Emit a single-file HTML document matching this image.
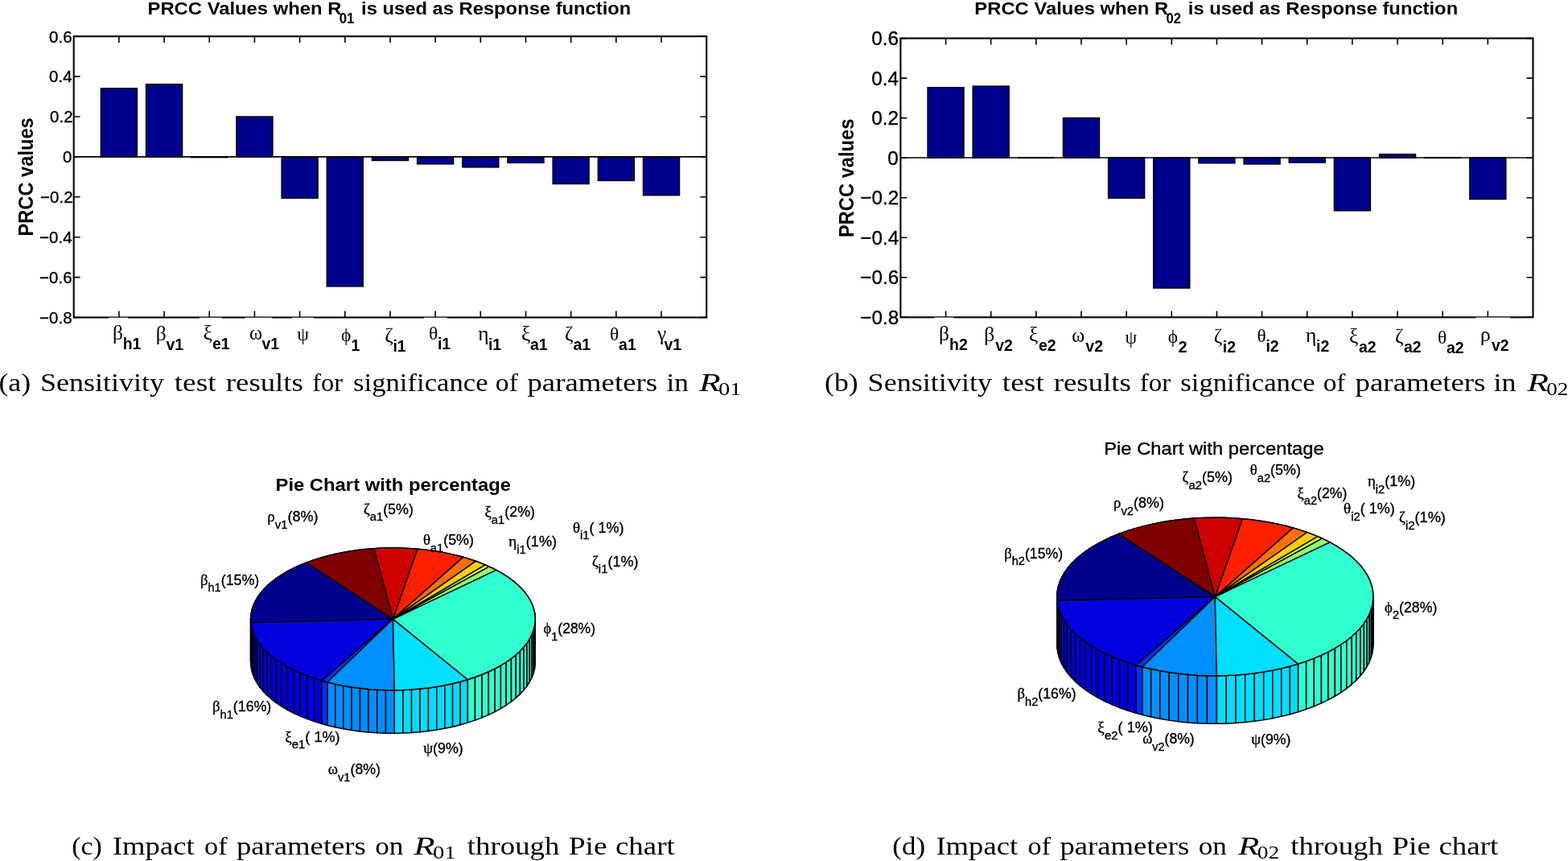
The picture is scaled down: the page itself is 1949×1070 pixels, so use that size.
<!DOCTYPE html><html><head><meta charset="utf-8"><title>PRCC sensitivity figure</title><style>html,body{margin:0;padding:0;background:#fff;overflow:hidden}svg{display:block;font-family:'Liberation Sans', Arial, Helvetica, sans-serif} .t{stroke:#000;stroke-width:0.35px}</style></head><body>
<svg width="1949" height="1070" viewBox="0 0 1949 1070">
<rect width="1949" height="1070" fill="#fff"/>
<rect x="125.41" y="109.8" width="44.94" height="85.1" fill="#00008F" stroke="#000" stroke-width="1.5"/>
<rect x="181.59" y="104.7" width="44.94" height="90.2" fill="#00008F" stroke="#000" stroke-width="1.5"/>
<rect x="237.77" y="194.9" width="44.94" height="0.7" fill="#00008F" stroke="#000" stroke-width="1.5"/>
<rect x="293.95" y="145" width="44.94" height="49.9" fill="#00008F" stroke="#000" stroke-width="1.5"/>
<rect x="350.13" y="194.9" width="44.94" height="51.3" fill="#00008F" stroke="#000" stroke-width="1.5"/>
<rect x="406.31" y="194.9" width="44.94" height="161" fill="#00008F" stroke="#000" stroke-width="1.5"/>
<rect x="462.49" y="194.9" width="44.94" height="4.5" fill="#00008F" stroke="#000" stroke-width="1.5"/>
<rect x="518.67" y="194.9" width="44.94" height="8.9" fill="#00008F" stroke="#000" stroke-width="1.5"/>
<rect x="574.85" y="194.9" width="44.94" height="12.9" fill="#00008F" stroke="#000" stroke-width="1.5"/>
<rect x="631.03" y="194.9" width="44.94" height="7.4" fill="#00008F" stroke="#000" stroke-width="1.5"/>
<rect x="687.21" y="194.9" width="44.94" height="33.6" fill="#00008F" stroke="#000" stroke-width="1.5"/>
<rect x="743.39" y="194.9" width="44.94" height="29.5" fill="#00008F" stroke="#000" stroke-width="1.5"/>
<rect x="799.57" y="194.9" width="44.94" height="47.8" fill="#00008F" stroke="#000" stroke-width="1.5"/>
<line x1="91.7" y1="194.9" x2="878.22" y2="194.9" stroke="#000" stroke-width="1.6"/>
<rect x="91.7" y="45.2" width="786.52" height="349.3" fill="none" stroke="#000" stroke-width="2.1"/>
<path d="M147.88 45.2v7.9M147.88 394.5v-7.9M204.06 45.2v7.9M204.06 394.5v-7.9M260.24 45.2v7.9M260.24 394.5v-7.9M316.42 45.2v7.9M316.42 394.5v-7.9M372.6 45.2v7.9M372.6 394.5v-7.9M428.78 45.2v7.9M428.78 394.5v-7.9M484.96 45.2v7.9M484.96 394.5v-7.9M541.14 45.2v7.9M541.14 394.5v-7.9M597.32 45.2v7.9M597.32 394.5v-7.9M653.5 45.2v7.9M653.5 394.5v-7.9M709.68 45.2v7.9M709.68 394.5v-7.9M765.86 45.2v7.9M765.86 394.5v-7.9M822.04 45.2v7.9M822.04 394.5v-7.9M91.7 45.2h7.9M878.22 45.2h-7.9M91.7 95.1h7.9M878.22 95.1h-7.9M91.7 145h7.9M878.22 145h-7.9M91.7 194.9h7.9M878.22 194.9h-7.9M91.7 244.8h7.9M878.22 244.8h-7.9M91.7 294.7h7.9M878.22 294.7h-7.9M91.7 344.6h7.9M878.22 344.6h-7.9M91.7 394.5h7.9M878.22 394.5h-7.9" stroke="#000" stroke-width="1.6" fill="none"/>
<rect x="1153.09" y="108.8" width="44.92" height="87.2" fill="#00008F" stroke="#000" stroke-width="1.5"/>
<rect x="1209.24" y="107.1" width="44.92" height="88.9" fill="#00008F" stroke="#000" stroke-width="1.5"/>
<rect x="1265.39" y="195.7" width="44.92" height="0.6" fill="#00008F" stroke="#000" stroke-width="1.5"/>
<rect x="1321.54" y="146.6" width="44.92" height="49.4" fill="#00008F" stroke="#000" stroke-width="1.5"/>
<rect x="1377.69" y="196" width="44.92" height="50.2" fill="#00008F" stroke="#000" stroke-width="1.5"/>
<rect x="1433.84" y="196" width="44.92" height="162" fill="#00008F" stroke="#000" stroke-width="1.5"/>
<rect x="1489.99" y="196" width="44.92" height="6.7" fill="#00008F" stroke="#000" stroke-width="1.5"/>
<rect x="1546.14" y="196" width="44.92" height="7.9" fill="#00008F" stroke="#000" stroke-width="1.5"/>
<rect x="1602.29" y="196" width="44.92" height="6" fill="#00008F" stroke="#000" stroke-width="1.5"/>
<rect x="1658.44" y="196" width="44.92" height="65.8" fill="#00008F" stroke="#000" stroke-width="1.5"/>
<rect x="1714.59" y="191.7" width="44.92" height="4.3" fill="#00008F" stroke="#000" stroke-width="1.5"/>
<rect x="1770.74" y="195.7" width="44.92" height="0.6" fill="#00008F" stroke="#000" stroke-width="1.5"/>
<rect x="1826.89" y="196" width="44.92" height="51.5" fill="#00008F" stroke="#000" stroke-width="1.5"/>
<line x1="1119.4" y1="196" x2="1905.5" y2="196" stroke="#000" stroke-width="1.6"/>
<rect x="1119.4" y="47.6" width="786.1" height="346.7" fill="none" stroke="#000" stroke-width="2.1"/>
<path d="M1175.55 47.6v7.9M1175.55 394.3v-7.9M1231.7 47.6v7.9M1231.7 394.3v-7.9M1287.85 47.6v7.9M1287.85 394.3v-7.9M1344 47.6v7.9M1344 394.3v-7.9M1400.15 47.6v7.9M1400.15 394.3v-7.9M1456.3 47.6v7.9M1456.3 394.3v-7.9M1512.45 47.6v7.9M1512.45 394.3v-7.9M1568.6 47.6v7.9M1568.6 394.3v-7.9M1624.75 47.6v7.9M1624.75 394.3v-7.9M1680.9 47.6v7.9M1680.9 394.3v-7.9M1737.05 47.6v7.9M1737.05 394.3v-7.9M1793.2 47.6v7.9M1793.2 394.3v-7.9M1849.35 47.6v7.9M1849.35 394.3v-7.9M1119.4 47.6h7.9M1905.5 47.6h-7.9M1119.4 97.13h7.9M1905.5 97.13h-7.9M1119.4 146.66h7.9M1905.5 146.66h-7.9M1119.4 196.19h7.9M1905.5 196.19h-7.9M1119.4 245.71h7.9M1905.5 245.71h-7.9M1119.4 295.24h7.9M1905.5 295.24h-7.9M1119.4 344.77h7.9M1905.5 344.77h-7.9M1119.4 394.3h7.9M1905.5 394.3h-7.9" stroke="#000" stroke-width="1.6" fill="none"/>
<rect x="135.2" y="394.75" width="23.6" height="1.6" fill="#fff"/><rect x="248" y="394.75" width="27.7" height="1.6" fill="#fff"/><rect x="304.5" y="394.75" width="33.8" height="1.6" fill="#fff"/><rect x="363" y="394.75" width="26.6" height="1.6" fill="#fff"/><rect x="527.2" y="394.75" width="28.8" height="1.6" fill="#fff"/><rect x="1161.2" y="394.55" width="24.6" height="1.6" fill="#fff"/><rect x="1834.3" y="394.55" width="43.1" height="1.6" fill="#fff"/>
<g transform="translate(183.54,17.7) scale(1.0640,1)"><text x="0" y="0" font-size="22.4" font-weight="bold">PRCC Values when R</text></g>
<g transform="translate(421.68,29.2) scale(0.9211,1)"><text x="0" y="0" font-size="18.2" font-weight="bold">01</text></g>
<g transform="translate(449.04,17.7) scale(1.0615,1)"><text x="0" y="0" font-size="22.4" font-weight="bold">is used as Response function</text></g>
<g transform="translate(1211.34,17.7) scale(1.0640,1)"><text x="0" y="0" font-size="22.4" font-weight="bold">PRCC Values when R</text></g>
<g transform="translate(1449.48,29.2) scale(0.9211,1)"><text x="0" y="0" font-size="18.2" font-weight="bold">02</text></g>
<g transform="translate(1476.84,17.7) scale(1.0615,1)"><text x="0" y="0" font-size="22.4" font-weight="bold">is used as Response function</text></g>
<g transform="translate(140.1,421.8) scale(1.0000,1)"><text x="0" y="0" font-size="25.5" font-family="'Liberation Serif', 'DejaVu Serif', serif">β</text></g>
<g transform="translate(193.7,422.8) scale(1.0000,1)"><text x="0" y="0" font-size="25.5" font-family="'Liberation Serif', 'DejaVu Serif', serif">β</text></g>
<g transform="translate(252.5,422) scale(1.0000,1)"><text x="0" y="0" font-size="25.5" font-family="'Liberation Serif', 'DejaVu Serif', serif">ξ</text></g>
<g transform="translate(310.1,422) scale(1.0000,1)"><text x="0" y="0" font-size="24.22" font-family="'Liberation Serif', 'DejaVu Serif', serif">ω</text></g>
<g transform="translate(369.2,423.1) scale(1.0000,1)"><text x="0" y="0" font-size="23.46" font-family="'Liberation Serif', 'DejaVu Serif', serif">ψ</text></g>
<g transform="translate(424.1,424.2) scale(1.0000,1)"><text x="0" y="0" font-size="23.46" font-family="'Liberation Serif', 'DejaVu Serif', serif">ϕ</text></g>
<g transform="translate(478.2,424.8) scale(1.0000,1)"><text x="0" y="0" font-size="25.5" font-family="'Liberation Serif', 'DejaVu Serif', serif">ζ</text></g>
<g transform="translate(532.9,421.6) scale(1.0000,1)"><text x="0" y="0" font-size="23.46" font-family="'Liberation Serif', 'DejaVu Serif', serif">θ</text></g>
<g transform="translate(594.3,423) scale(1.0000,1)"><text x="0" y="0" font-size="25.5" font-family="'Liberation Serif', 'DejaVu Serif', serif">η</text></g>
<g transform="translate(647.9,422.7) scale(1.0000,1)"><text x="0" y="0" font-size="25.5" font-family="'Liberation Serif', 'DejaVu Serif', serif">ξ</text></g>
<g transform="translate(702,422.5) scale(1.0000,1)"><text x="0" y="0" font-size="25.5" font-family="'Liberation Serif', 'DejaVu Serif', serif">ζ</text></g>
<g transform="translate(758.1,422.5) scale(1.0000,1)"><text x="0" y="0" font-size="23.46" font-family="'Liberation Serif', 'DejaVu Serif', serif">θ</text></g>
<g transform="translate(817,423) scale(1.0000,1)"><text x="0" y="0" font-size="25.5" font-family="'Liberation Serif', 'DejaVu Serif', serif">γ</text></g>
<g transform="translate(1167,422.5) scale(1.0000,1)"><text x="0" y="0" font-size="25.5" font-family="'Liberation Serif', 'DejaVu Serif', serif">β</text></g>
<g transform="translate(1223.2,424.2) scale(1.0000,1)"><text x="0" y="0" font-size="25.5" font-family="'Liberation Serif', 'DejaVu Serif', serif">β</text></g>
<g transform="translate(1278.9,424.2) scale(1.0000,1)"><text x="0" y="0" font-size="25.5" font-family="'Liberation Serif', 'DejaVu Serif', serif">ξ</text></g>
<g transform="translate(1332.3,425.3) scale(1.0000,1)"><text x="0" y="0" font-size="24.22" font-family="'Liberation Serif', 'DejaVu Serif', serif">ω</text></g>
<g transform="translate(1398.6,426.7) scale(1.0000,1)"><text x="0" y="0" font-size="23.46" font-family="'Liberation Serif', 'DejaVu Serif', serif">ψ</text></g>
<g transform="translate(1451.8,425.7) scale(1.0000,1)"><text x="0" y="0" font-size="23.46" font-family="'Liberation Serif', 'DejaVu Serif', serif">ϕ</text></g>
<g transform="translate(1508.8,425.7) scale(1.0000,1)"><text x="0" y="0" font-size="25.5" font-family="'Liberation Serif', 'DejaVu Serif', serif">ζ</text></g>
<g transform="translate(1562.4,425) scale(1.0000,1)"><text x="0" y="0" font-size="23.46" font-family="'Liberation Serif', 'DejaVu Serif', serif">θ</text></g>
<g transform="translate(1623.1,425) scale(1.0000,1)"><text x="0" y="0" font-size="25.5" font-family="'Liberation Serif', 'DejaVu Serif', serif">η</text></g>
<g transform="translate(1676.9,425.7) scale(1.0000,1)"><text x="0" y="0" font-size="25.5" font-family="'Liberation Serif', 'DejaVu Serif', serif">ξ</text></g>
<g transform="translate(1733.9,425.9) scale(1.0000,1)"><text x="0" y="0" font-size="25.5" font-family="'Liberation Serif', 'DejaVu Serif', serif">ζ</text></g>
<g transform="translate(1787,426.6) scale(1.0000,1)"><text x="0" y="0" font-size="23.46" font-family="'Liberation Serif', 'DejaVu Serif', serif">θ</text></g>
<g transform="translate(1840,423.7) scale(1.0000,1)"><text x="0" y="0" font-size="25.5" font-family="'Liberation Serif', 'DejaVu Serif', serif">ρ</text></g>
<path d="M380.79 699.15L372.51 702.53L372.51 756.13L380.79 752.75Z" fill="#00008F" stroke="#000" stroke-width="1.5" stroke-linejoin="round"/>
<path d="M372.51 702.53L364.66 706.15L364.66 759.75L372.51 756.13Z" fill="#00008F" stroke="#000" stroke-width="1.5" stroke-linejoin="round"/>
<path d="M364.66 706.15L357.26 710L357.26 763.6L364.66 759.75Z" fill="#00008F" stroke="#000" stroke-width="1.5" stroke-linejoin="round"/>
<path d="M357.26 710L350.33 714.07L350.33 767.67L357.26 763.6Z" fill="#00008F" stroke="#000" stroke-width="1.5" stroke-linejoin="round"/>
<path d="M350.33 714.07L343.92 718.34L343.92 771.94L350.33 767.67Z" fill="#00008F" stroke="#000" stroke-width="1.5" stroke-linejoin="round"/>
<path d="M343.92 718.34L338.02 722.8L338.02 776.4L343.92 771.94Z" fill="#00008F" stroke="#000" stroke-width="1.5" stroke-linejoin="round"/>
<path d="M338.02 722.8L332.68 727.43L332.68 781.03L338.02 776.4Z" fill="#00008F" stroke="#000" stroke-width="1.5" stroke-linejoin="round"/>
<path d="M332.68 727.43L327.91 732.21L327.91 785.81L332.68 781.03Z" fill="#00008F" stroke="#000" stroke-width="1.5" stroke-linejoin="round"/>
<path d="M327.91 732.21L323.72 737.13L323.72 790.73L327.91 785.81Z" fill="#00008F" stroke="#000" stroke-width="1.5" stroke-linejoin="round"/>
<path d="M323.72 737.13L320.14 742.16L320.14 795.76L323.72 790.73Z" fill="#00008F" stroke="#000" stroke-width="1.5" stroke-linejoin="round"/>
<path d="M320.14 742.16L317.17 747.29L317.17 800.89L320.14 795.76Z" fill="#00008F" stroke="#000" stroke-width="1.5" stroke-linejoin="round"/>
<path d="M317.17 747.29L314.82 752.5L314.82 806.1L317.17 800.89Z" fill="#00008F" stroke="#000" stroke-width="1.5" stroke-linejoin="round"/>
<path d="M314.82 752.5L313.11 757.78L313.11 811.38L314.82 806.1Z" fill="#00008F" stroke="#000" stroke-width="1.5" stroke-linejoin="round"/>
<path d="M313.11 757.78L312.04 763.09L312.04 816.69L313.11 811.38Z" fill="#00008F" stroke="#000" stroke-width="1.5" stroke-linejoin="round"/>
<path d="M312.04 763.09L311.61 768.43L311.61 822.03L312.04 816.69Z" fill="#00008F" stroke="#000" stroke-width="1.5" stroke-linejoin="round"/>
<path d="M311.61 768.43L311.6 769.3L311.6 822.9L311.61 822.03Z" fill="#00008F" stroke="#000" stroke-width="1.5" stroke-linejoin="round"/>
<path d="M665.3 769.3L665.25 767.18L665.25 820.78L665.3 822.9Z" fill="#30FFCF" stroke="#000" stroke-width="1.5" stroke-linejoin="round"/>
<path d="M665.25 767.18L664.66 761.77L664.66 815.37L665.25 820.78Z" fill="#30FFCF" stroke="#000" stroke-width="1.5" stroke-linejoin="round"/>
<path d="M664.66 761.77L663.4 756.39L663.4 809.99L664.66 815.37Z" fill="#30FFCF" stroke="#000" stroke-width="1.5" stroke-linejoin="round"/>
<path d="M663.4 756.39L661.49 751.06L661.49 804.66L663.4 809.99Z" fill="#30FFCF" stroke="#000" stroke-width="1.5" stroke-linejoin="round"/>
<path d="M661.49 751.06L658.94 745.79L658.94 799.39L661.49 804.66Z" fill="#30FFCF" stroke="#000" stroke-width="1.5" stroke-linejoin="round"/>
<path d="M658.94 745.79L655.74 740.62L655.74 794.22L658.94 799.39Z" fill="#30FFCF" stroke="#000" stroke-width="1.5" stroke-linejoin="round"/>
<path d="M655.74 740.62L651.91 735.55L651.91 789.15L655.74 794.22Z" fill="#30FFCF" stroke="#000" stroke-width="1.5" stroke-linejoin="round"/>
<path d="M651.91 735.55L647.47 730.61L647.47 784.21L651.91 789.15Z" fill="#30FFCF" stroke="#000" stroke-width="1.5" stroke-linejoin="round"/>
<path d="M647.47 730.61L642.44 725.81L642.44 779.41L647.47 784.21Z" fill="#30FFCF" stroke="#000" stroke-width="1.5" stroke-linejoin="round"/>
<path d="M642.44 725.81L636.82 721.18L636.82 774.78L642.44 779.41Z" fill="#30FFCF" stroke="#000" stroke-width="1.5" stroke-linejoin="round"/>
<path d="M636.82 721.18L630.65 716.73L630.65 770.33L636.82 774.78Z" fill="#30FFCF" stroke="#000" stroke-width="1.5" stroke-linejoin="round"/>
<path d="M630.65 716.73L623.95 712.47L623.95 766.07L630.65 770.33Z" fill="#30FFCF" stroke="#000" stroke-width="1.5" stroke-linejoin="round"/>
<path d="M623.95 712.47L616.73 708.43L616.73 762.03L623.95 766.07Z" fill="#30FFCF" stroke="#000" stroke-width="1.5" stroke-linejoin="round"/>
<path d="M616.73 708.43L612.41 706.23L612.41 759.83L616.73 762.03Z" fill="#8FFF70" stroke="#000" stroke-width="1.5" stroke-linejoin="round"/>
<path d="M612.41 706.23L607.93 704.11L607.93 757.71L612.41 759.83Z" fill="#8FFF70" stroke="#000" stroke-width="1.5" stroke-linejoin="round"/>
<path d="M607.93 704.11L603.07 701.96L603.07 755.56L607.93 757.71Z" fill="#DFFF20" stroke="#000" stroke-width="1.5" stroke-linejoin="round"/>
<path d="M603.07 701.96L597.21 699.57L597.21 753.17L603.07 755.56Z" fill="#FFCF00" stroke="#000" stroke-width="1.5" stroke-linejoin="round"/>
<path d="M597.21 699.57L591.15 697.31L591.15 750.91L597.21 753.17Z" fill="#FFCF00" stroke="#000" stroke-width="1.5" stroke-linejoin="round"/>
<path d="M591.15 697.31L583.47 694.72L583.47 748.32L591.15 750.91Z" fill="#FF7000" stroke="#000" stroke-width="1.5" stroke-linejoin="round"/>
<path d="M583.47 694.72L575.54 692.34L575.54 745.94L583.47 748.32Z" fill="#FF7000" stroke="#000" stroke-width="1.5" stroke-linejoin="round"/>
<path d="M575.54 692.34L566.62 689.98L566.62 743.58L575.54 745.94Z" fill="#FF2000" stroke="#000" stroke-width="1.5" stroke-linejoin="round"/>
<path d="M566.62 689.98L557.46 687.88L557.46 741.48L566.62 743.58Z" fill="#FF2000" stroke="#000" stroke-width="1.5" stroke-linejoin="round"/>
<path d="M557.46 687.88L548.07 686.05L548.07 739.65L557.46 741.48Z" fill="#FF2000" stroke="#000" stroke-width="1.5" stroke-linejoin="round"/>
<path d="M548.07 686.05L538.48 684.49L538.48 738.09L548.07 739.65Z" fill="#FF2000" stroke="#000" stroke-width="1.5" stroke-linejoin="round"/>
<path d="M538.48 684.49L528.73 683.2L528.73 736.8L538.48 738.09Z" fill="#FF2000" stroke="#000" stroke-width="1.5" stroke-linejoin="round"/>
<path d="M528.73 683.2L518.86 682.19L518.86 735.79L528.73 736.8Z" fill="#FF2000" stroke="#000" stroke-width="1.5" stroke-linejoin="round"/>
<path d="M518.86 682.19L508.1 681.42L508.1 735.02L518.86 735.79Z" fill="#CF0000" stroke="#000" stroke-width="1.5" stroke-linejoin="round"/>
<path d="M508.1 681.42L497.27 680.99L497.27 734.59L508.1 735.02Z" fill="#CF0000" stroke="#000" stroke-width="1.5" stroke-linejoin="round"/>
<path d="M497.27 680.99L486.41 680.88L486.41 734.48L497.27 734.59Z" fill="#CF0000" stroke="#000" stroke-width="1.5" stroke-linejoin="round"/>
<path d="M486.41 680.88L475.56 681.11L475.56 734.71L486.41 734.48Z" fill="#CF0000" stroke="#000" stroke-width="1.5" stroke-linejoin="round"/>
<path d="M475.56 681.11L464.75 681.67L464.75 735.27L475.56 734.71Z" fill="#CF0000" stroke="#000" stroke-width="1.5" stroke-linejoin="round"/>
<path d="M464.75 681.67L454.67 682.5L454.67 736.1L464.75 735.27Z" fill="#800000" stroke="#000" stroke-width="1.5" stroke-linejoin="round"/>
<path d="M454.67 682.5L444.7 683.62L444.7 737.22L454.67 736.1Z" fill="#800000" stroke="#000" stroke-width="1.5" stroke-linejoin="round"/>
<path d="M444.7 683.62L434.88 685.03L434.88 738.63L444.7 737.22Z" fill="#800000" stroke="#000" stroke-width="1.5" stroke-linejoin="round"/>
<path d="M434.88 685.03L425.23 686.72L425.23 740.32L434.88 738.63Z" fill="#800000" stroke="#000" stroke-width="1.5" stroke-linejoin="round"/>
<path d="M425.23 686.72L415.8 688.68L415.8 742.28L425.23 740.32Z" fill="#800000" stroke="#000" stroke-width="1.5" stroke-linejoin="round"/>
<path d="M415.8 688.68L406.61 690.91L406.61 744.51L415.8 742.28Z" fill="#800000" stroke="#000" stroke-width="1.5" stroke-linejoin="round"/>
<path d="M406.61 690.91L397.69 693.41L397.69 747.01L406.61 744.51Z" fill="#800000" stroke="#000" stroke-width="1.5" stroke-linejoin="round"/>
<path d="M397.69 693.41L389.07 696.16L389.07 749.76L397.69 747.01Z" fill="#800000" stroke="#000" stroke-width="1.5" stroke-linejoin="round"/>
<path d="M389.07 696.16L380.79 699.15L380.79 752.75L389.07 749.76Z" fill="#800000" stroke="#000" stroke-width="1.5" stroke-linejoin="round"/>
<path d="M311.6 769.3L311.83 773.77L311.83 827.37L311.6 822.9Z" fill="#00008F" stroke="#000" stroke-width="1.5" stroke-linejoin="round"/>
<path d="M311.83 773.77L312.73 779.26L312.73 832.86L311.83 827.37Z" fill="#0000DF" stroke="#000" stroke-width="1.5" stroke-linejoin="round"/>
<path d="M312.73 779.26L314.31 784.71L314.31 838.31L312.73 832.86Z" fill="#0000DF" stroke="#000" stroke-width="1.5" stroke-linejoin="round"/>
<path d="M314.31 784.71L316.56 790.1L316.56 843.7L314.31 838.31Z" fill="#0000DF" stroke="#000" stroke-width="1.5" stroke-linejoin="round"/>
<path d="M316.56 790.1L319.49 795.41L319.49 849.01L316.56 843.7Z" fill="#0000DF" stroke="#000" stroke-width="1.5" stroke-linejoin="round"/>
<path d="M319.49 795.41L323.06 800.62L323.06 854.22L319.49 849.01Z" fill="#0000DF" stroke="#000" stroke-width="1.5" stroke-linejoin="round"/>
<path d="M323.06 800.62L327.28 805.71L327.28 859.31L323.06 854.22Z" fill="#0000DF" stroke="#000" stroke-width="1.5" stroke-linejoin="round"/>
<path d="M327.28 805.71L332.13 810.65L332.13 864.25L327.28 859.31Z" fill="#0000DF" stroke="#000" stroke-width="1.5" stroke-linejoin="round"/>
<path d="M332.13 810.65L337.58 815.44L337.58 869.04L332.13 864.25Z" fill="#0000DF" stroke="#000" stroke-width="1.5" stroke-linejoin="round"/>
<path d="M337.58 815.44L343.62 820.04L343.62 873.64L337.58 869.04Z" fill="#0000DF" stroke="#000" stroke-width="1.5" stroke-linejoin="round"/>
<path d="M343.62 820.04L350.21 824.45L350.21 878.05L343.62 873.64Z" fill="#0000DF" stroke="#000" stroke-width="1.5" stroke-linejoin="round"/>
<path d="M350.21 824.45L357.35 828.65L357.35 882.25L350.21 878.05Z" fill="#0000DF" stroke="#000" stroke-width="1.5" stroke-linejoin="round"/>
<path d="M357.35 828.65L364.99 832.61L364.99 886.21L357.35 882.25Z" fill="#0000DF" stroke="#000" stroke-width="1.5" stroke-linejoin="round"/>
<path d="M364.99 832.61L373.11 836.33L373.11 889.93L364.99 886.21Z" fill="#0000DF" stroke="#000" stroke-width="1.5" stroke-linejoin="round"/>
<path d="M373.11 836.33L381.68 839.79L381.68 893.39L373.11 889.93Z" fill="#0000DF" stroke="#000" stroke-width="1.5" stroke-linejoin="round"/>
<path d="M381.68 839.79L390.66 842.98L390.66 896.58L381.68 893.39Z" fill="#0000DF" stroke="#000" stroke-width="1.5" stroke-linejoin="round"/>
<path d="M390.66 842.98L400.02 845.88L400.02 899.48L390.66 896.58Z" fill="#0000DF" stroke="#000" stroke-width="1.5" stroke-linejoin="round"/>
<path d="M400.02 845.88L407.06 847.81L407.06 901.41L400.02 899.48Z" fill="#0030FF" stroke="#000" stroke-width="1.5" stroke-linejoin="round"/>
<path d="M407.06 847.81L416.8 850.14L416.8 903.74L407.06 901.41Z" fill="#008FFF" stroke="#000" stroke-width="1.5" stroke-linejoin="round"/>
<path d="M416.8 850.14L426.81 852.18L426.81 905.78L416.8 903.74Z" fill="#008FFF" stroke="#000" stroke-width="1.5" stroke-linejoin="round"/>
<path d="M426.81 852.18L437.04 853.91L437.04 907.51L426.81 905.78Z" fill="#008FFF" stroke="#000" stroke-width="1.5" stroke-linejoin="round"/>
<path d="M437.04 853.91L447.47 855.32L447.47 908.92L437.04 907.51Z" fill="#008FFF" stroke="#000" stroke-width="1.5" stroke-linejoin="round"/>
<path d="M447.47 855.32L458.04 856.41L458.04 910.01L447.47 908.92Z" fill="#008FFF" stroke="#000" stroke-width="1.5" stroke-linejoin="round"/>
<path d="M458.04 856.41L468.74 857.17L468.74 910.77L458.04 910.01Z" fill="#008FFF" stroke="#000" stroke-width="1.5" stroke-linejoin="round"/>
<path d="M468.74 857.17L479.5 857.61L479.5 911.21L468.74 910.77Z" fill="#008FFF" stroke="#000" stroke-width="1.5" stroke-linejoin="round"/>
<path d="M479.5 857.61L490.3 857.72L490.3 911.32L479.5 911.21Z" fill="#008FFF" stroke="#000" stroke-width="1.5" stroke-linejoin="round"/>
<path d="M490.3 857.72L500.96 857.5L500.96 911.1L490.3 911.32Z" fill="#00DFFF" stroke="#000" stroke-width="1.5" stroke-linejoin="round"/>
<path d="M500.96 857.5L511.57 856.97L511.57 910.57L500.96 911.1Z" fill="#00DFFF" stroke="#000" stroke-width="1.5" stroke-linejoin="round"/>
<path d="M511.57 856.97L522.09 856.11L522.09 909.71L511.57 910.57Z" fill="#00DFFF" stroke="#000" stroke-width="1.5" stroke-linejoin="round"/>
<path d="M522.09 856.11L532.5 854.94L532.5 908.54L522.09 909.71Z" fill="#00DFFF" stroke="#000" stroke-width="1.5" stroke-linejoin="round"/>
<path d="M532.5 854.94L542.74 853.46L542.74 907.06L532.5 908.54Z" fill="#00DFFF" stroke="#000" stroke-width="1.5" stroke-linejoin="round"/>
<path d="M542.74 853.46L552.79 851.67L552.79 905.27L542.74 907.06Z" fill="#00DFFF" stroke="#000" stroke-width="1.5" stroke-linejoin="round"/>
<path d="M552.79 851.67L562.6 849.58L562.6 903.18L552.79 905.27Z" fill="#00DFFF" stroke="#000" stroke-width="1.5" stroke-linejoin="round"/>
<path d="M562.6 849.58L572.14 847.2L572.14 900.8L562.6 903.18Z" fill="#00DFFF" stroke="#000" stroke-width="1.5" stroke-linejoin="round"/>
<path d="M572.14 847.2L581.38 844.53L581.38 898.13L572.14 900.8Z" fill="#00DFFF" stroke="#000" stroke-width="1.5" stroke-linejoin="round"/>
<path d="M581.38 844.53L590.42 841.55L590.42 895.15L581.38 898.13Z" fill="#30FFCF" stroke="#000" stroke-width="1.5" stroke-linejoin="round"/>
<path d="M590.42 841.55L599.07 838.29L599.07 891.89L590.42 895.15Z" fill="#30FFCF" stroke="#000" stroke-width="1.5" stroke-linejoin="round"/>
<path d="M599.07 838.29L607.31 834.77L607.31 888.37L599.07 891.89Z" fill="#30FFCF" stroke="#000" stroke-width="1.5" stroke-linejoin="round"/>
<path d="M607.31 834.77L615.11 831.01L615.11 884.61L607.31 888.37Z" fill="#30FFCF" stroke="#000" stroke-width="1.5" stroke-linejoin="round"/>
<path d="M615.11 831.01L622.43 827.02L622.43 880.62L615.11 884.61Z" fill="#30FFCF" stroke="#000" stroke-width="1.5" stroke-linejoin="round"/>
<path d="M622.43 827.02L629.25 822.81L629.25 876.41L622.43 880.62Z" fill="#30FFCF" stroke="#000" stroke-width="1.5" stroke-linejoin="round"/>
<path d="M629.25 822.81L635.53 818.4L635.53 872L629.25 876.41Z" fill="#30FFCF" stroke="#000" stroke-width="1.5" stroke-linejoin="round"/>
<path d="M635.53 818.4L641.27 813.8L641.27 867.4L635.53 872Z" fill="#30FFCF" stroke="#000" stroke-width="1.5" stroke-linejoin="round"/>
<path d="M641.27 813.8L646.43 809.04L646.43 862.64L641.27 867.4Z" fill="#30FFCF" stroke="#000" stroke-width="1.5" stroke-linejoin="round"/>
<path d="M646.43 809.04L651 804.13L651 857.73L646.43 862.64Z" fill="#30FFCF" stroke="#000" stroke-width="1.5" stroke-linejoin="round"/>
<path d="M651 804.13L654.96 799.09L654.96 852.69L651 857.73Z" fill="#30FFCF" stroke="#000" stroke-width="1.5" stroke-linejoin="round"/>
<path d="M654.96 799.09L658.3 793.93L658.3 847.53L654.96 852.69Z" fill="#30FFCF" stroke="#000" stroke-width="1.5" stroke-linejoin="round"/>
<path d="M658.3 793.93L661 788.69L661 842.29L658.3 847.53Z" fill="#30FFCF" stroke="#000" stroke-width="1.5" stroke-linejoin="round"/>
<path d="M661 788.69L663.05 783.37L663.05 836.97L661 842.29Z" fill="#30FFCF" stroke="#000" stroke-width="1.5" stroke-linejoin="round"/>
<path d="M663.05 783.37L664.44 778L664.44 831.6L663.05 836.97Z" fill="#30FFCF" stroke="#000" stroke-width="1.5" stroke-linejoin="round"/>
<path d="M664.44 778L665.18 772.59L665.18 826.19L664.44 831.6Z" fill="#30FFCF" stroke="#000" stroke-width="1.5" stroke-linejoin="round"/>
<path d="M665.18 772.59L665.3 769.3L665.3 822.9L665.18 826.19Z" fill="#30FFCF" stroke="#000" stroke-width="1.5" stroke-linejoin="round"/>
<path d="M488.45 769.3L380.79 699.15L372.51 702.53L364.66 706.15L357.26 710L350.33 714.07L343.92 718.34L338.02 722.8L332.68 727.43L327.91 732.21L323.72 737.13L320.14 742.16L317.17 747.29L314.82 752.5L313.11 757.78L312.04 763.09L311.61 768.43L311.83 773.77Z" fill="#00008F" stroke="#000" stroke-width="1.5" stroke-linejoin="round"/>
<path d="M488.45 769.3L311.83 773.77L312.73 779.26L314.31 784.71L316.56 790.1L319.49 795.41L323.06 800.62L327.28 805.71L332.13 810.65L337.58 815.44L343.62 820.04L350.21 824.45L357.35 828.65L364.99 832.61L373.11 836.33L381.68 839.79L390.66 842.98L400.02 845.88Z" fill="#0000DF" stroke="#000" stroke-width="1.5" stroke-linejoin="round"/>
<path d="M488.45 769.3L400.02 845.88L407.06 847.81Z" fill="#0030FF" stroke="#000" stroke-width="1.5" stroke-linejoin="round"/>
<path d="M488.45 769.3L407.06 847.81L416.8 850.14L426.81 852.18L437.04 853.91L447.47 855.32L458.04 856.41L468.74 857.17L479.5 857.61L490.3 857.72Z" fill="#008FFF" stroke="#000" stroke-width="1.5" stroke-linejoin="round"/>
<path d="M488.45 769.3L490.3 857.72L500.96 857.5L511.57 856.97L522.09 856.11L532.5 854.94L542.74 853.46L552.79 851.67L562.6 849.58L572.14 847.2L581.38 844.53Z" fill="#00DFFF" stroke="#000" stroke-width="1.5" stroke-linejoin="round"/>
<path d="M488.45 769.3L581.38 844.53L590.42 841.55L599.07 838.29L607.31 834.77L615.11 831.01L622.43 827.02L629.25 822.81L635.53 818.4L641.27 813.8L646.43 809.04L651 804.13L654.96 799.09L658.3 793.93L661 788.69L663.05 783.37L664.44 778L665.18 772.59L665.25 767.18L664.66 761.77L663.4 756.39L661.49 751.06L658.94 745.79L655.74 740.62L651.91 735.55L647.47 730.61L642.44 725.81L636.82 721.18L630.65 716.73L623.95 712.47L616.73 708.43Z" fill="#30FFCF" stroke="#000" stroke-width="1.5" stroke-linejoin="round"/>
<path d="M488.45 769.3L616.73 708.43L612.41 706.23L607.93 704.11Z" fill="#8FFF70" stroke="#000" stroke-width="1.5" stroke-linejoin="round"/>
<path d="M488.45 769.3L607.93 704.11L603.07 701.96Z" fill="#DFFF20" stroke="#000" stroke-width="1.5" stroke-linejoin="round"/>
<path d="M488.45 769.3L603.07 701.96L597.21 699.57L591.15 697.31Z" fill="#FFCF00" stroke="#000" stroke-width="1.5" stroke-linejoin="round"/>
<path d="M488.45 769.3L591.15 697.31L583.47 694.72L575.54 692.34Z" fill="#FF7000" stroke="#000" stroke-width="1.5" stroke-linejoin="round"/>
<path d="M488.45 769.3L575.54 692.34L566.62 689.98L557.46 687.88L548.07 686.05L538.48 684.49L528.73 683.2L518.86 682.19Z" fill="#FF2000" stroke="#000" stroke-width="1.5" stroke-linejoin="round"/>
<path d="M488.45 769.3L518.86 682.19L508.1 681.42L497.27 680.99L486.41 680.88L475.56 681.11L464.75 681.67Z" fill="#CF0000" stroke="#000" stroke-width="1.5" stroke-linejoin="round"/>
<path d="M488.45 769.3L464.75 681.67L454.67 682.5L444.7 683.62L434.88 685.03L425.23 686.72L415.8 688.68L406.61 690.91L397.69 693.41L389.07 696.16L380.79 699.15Z" fill="#800000" stroke="#000" stroke-width="1.5" stroke-linejoin="round"/>
<path d="M1390.7 663.53L1381.5 667.29L1381.5 726.89L1390.7 723.13Z" fill="#00008F" stroke="#000" stroke-width="1.5" stroke-linejoin="round"/>
<path d="M1381.5 667.29L1372.77 671.32L1372.77 730.92L1381.5 726.89Z" fill="#00008F" stroke="#000" stroke-width="1.5" stroke-linejoin="round"/>
<path d="M1372.77 671.32L1364.54 675.6L1364.54 735.2L1372.77 730.92Z" fill="#00008F" stroke="#000" stroke-width="1.5" stroke-linejoin="round"/>
<path d="M1364.54 675.6L1356.85 680.12L1356.85 739.72L1364.54 735.2Z" fill="#00008F" stroke="#000" stroke-width="1.5" stroke-linejoin="round"/>
<path d="M1356.85 680.12L1349.72 684.87L1349.72 744.47L1356.85 739.72Z" fill="#00008F" stroke="#000" stroke-width="1.5" stroke-linejoin="round"/>
<path d="M1349.72 684.87L1343.17 689.82L1343.17 749.42L1349.72 744.47Z" fill="#00008F" stroke="#000" stroke-width="1.5" stroke-linejoin="round"/>
<path d="M1343.17 689.82L1337.23 694.97L1337.23 754.57L1343.17 749.42Z" fill="#00008F" stroke="#000" stroke-width="1.5" stroke-linejoin="round"/>
<path d="M1337.23 694.97L1331.93 700.28L1331.93 759.88L1337.23 754.57Z" fill="#00008F" stroke="#000" stroke-width="1.5" stroke-linejoin="round"/>
<path d="M1331.93 700.28L1327.27 705.74L1327.27 765.34L1331.93 759.88Z" fill="#00008F" stroke="#000" stroke-width="1.5" stroke-linejoin="round"/>
<path d="M1327.27 705.74L1323.29 711.34L1323.29 770.94L1327.27 765.34Z" fill="#00008F" stroke="#000" stroke-width="1.5" stroke-linejoin="round"/>
<path d="M1323.29 711.34L1319.99 717.04L1319.99 776.64L1323.29 770.94Z" fill="#00008F" stroke="#000" stroke-width="1.5" stroke-linejoin="round"/>
<path d="M1319.99 717.04L1317.38 722.83L1317.38 782.43L1319.99 776.64Z" fill="#00008F" stroke="#000" stroke-width="1.5" stroke-linejoin="round"/>
<path d="M1317.38 722.83L1315.48 728.69L1315.48 788.29L1317.38 782.43Z" fill="#00008F" stroke="#000" stroke-width="1.5" stroke-linejoin="round"/>
<path d="M1315.48 728.69L1314.28 734.6L1314.28 794.2L1315.48 788.29Z" fill="#00008F" stroke="#000" stroke-width="1.5" stroke-linejoin="round"/>
<path d="M1314.28 734.6L1313.81 740.54L1313.81 800.14L1314.28 794.2Z" fill="#00008F" stroke="#000" stroke-width="1.5" stroke-linejoin="round"/>
<path d="M1313.81 740.54L1313.8 741.5L1313.8 801.1L1313.81 800.14Z" fill="#00008F" stroke="#000" stroke-width="1.5" stroke-linejoin="round"/>
<path d="M1706.9 741.5L1706.84 739.14L1706.84 798.74L1706.9 801.1Z" fill="#30FFCF" stroke="#000" stroke-width="1.5" stroke-linejoin="round"/>
<path d="M1706.84 739.14L1706.19 733.13L1706.19 792.73L1706.84 798.74Z" fill="#30FFCF" stroke="#000" stroke-width="1.5" stroke-linejoin="round"/>
<path d="M1706.19 733.13L1704.79 727.15L1704.79 786.75L1706.19 792.73Z" fill="#30FFCF" stroke="#000" stroke-width="1.5" stroke-linejoin="round"/>
<path d="M1704.79 727.15L1702.67 721.22L1702.67 780.82L1704.79 786.75Z" fill="#30FFCF" stroke="#000" stroke-width="1.5" stroke-linejoin="round"/>
<path d="M1702.67 721.22L1699.83 715.37L1699.83 774.97L1702.67 780.82Z" fill="#30FFCF" stroke="#000" stroke-width="1.5" stroke-linejoin="round"/>
<path d="M1699.83 715.37L1696.27 709.62L1696.27 769.22L1699.83 774.97Z" fill="#30FFCF" stroke="#000" stroke-width="1.5" stroke-linejoin="round"/>
<path d="M1696.27 709.62L1692.02 703.99L1692.02 763.59L1696.27 769.22Z" fill="#30FFCF" stroke="#000" stroke-width="1.5" stroke-linejoin="round"/>
<path d="M1692.02 703.99L1687.09 698.5L1687.09 758.1L1692.02 763.59Z" fill="#30FFCF" stroke="#000" stroke-width="1.5" stroke-linejoin="round"/>
<path d="M1687.09 698.5L1681.49 693.17L1681.49 752.77L1687.09 758.1Z" fill="#30FFCF" stroke="#000" stroke-width="1.5" stroke-linejoin="round"/>
<path d="M1681.49 693.17L1675.25 688.02L1675.25 747.62L1681.49 752.77Z" fill="#30FFCF" stroke="#000" stroke-width="1.5" stroke-linejoin="round"/>
<path d="M1675.25 688.02L1668.39 683.07L1668.39 742.67L1675.25 747.62Z" fill="#30FFCF" stroke="#000" stroke-width="1.5" stroke-linejoin="round"/>
<path d="M1668.39 683.07L1660.94 678.34L1660.94 737.94L1668.39 742.67Z" fill="#30FFCF" stroke="#000" stroke-width="1.5" stroke-linejoin="round"/>
<path d="M1660.94 678.34L1652.92 673.85L1652.92 733.45L1660.94 737.94Z" fill="#30FFCF" stroke="#000" stroke-width="1.5" stroke-linejoin="round"/>
<path d="M1652.92 673.85L1648.11 671.41L1648.11 731.01L1652.92 733.45Z" fill="#8FFF70" stroke="#000" stroke-width="1.5" stroke-linejoin="round"/>
<path d="M1648.11 671.41L1643.14 669.04L1643.14 728.64L1648.11 731.01Z" fill="#8FFF70" stroke="#000" stroke-width="1.5" stroke-linejoin="round"/>
<path d="M1643.14 669.04L1637.74 666.66L1637.74 726.26L1643.14 728.64Z" fill="#DFFF20" stroke="#000" stroke-width="1.5" stroke-linejoin="round"/>
<path d="M1637.74 666.66L1631.22 664.01L1631.22 723.61L1637.74 726.26Z" fill="#FFCF00" stroke="#000" stroke-width="1.5" stroke-linejoin="round"/>
<path d="M1631.22 664.01L1624.49 661.49L1624.49 721.09L1631.22 723.61Z" fill="#FFCF00" stroke="#000" stroke-width="1.5" stroke-linejoin="round"/>
<path d="M1624.49 661.49L1615.96 658.62L1615.96 718.22L1624.49 721.09Z" fill="#FF7000" stroke="#000" stroke-width="1.5" stroke-linejoin="round"/>
<path d="M1615.96 658.62L1607.14 655.97L1607.14 715.57L1615.96 718.22Z" fill="#FF7000" stroke="#000" stroke-width="1.5" stroke-linejoin="round"/>
<path d="M1607.14 655.97L1597.23 653.35L1597.23 712.95L1607.14 715.57Z" fill="#FF2000" stroke="#000" stroke-width="1.5" stroke-linejoin="round"/>
<path d="M1597.23 653.35L1587.04 651.02L1587.04 710.62L1597.23 712.95Z" fill="#FF2000" stroke="#000" stroke-width="1.5" stroke-linejoin="round"/>
<path d="M1587.04 651.02L1576.61 648.98L1576.61 708.58L1587.04 710.62Z" fill="#FF2000" stroke="#000" stroke-width="1.5" stroke-linejoin="round"/>
<path d="M1576.61 648.98L1565.95 647.24L1565.95 706.84L1576.61 708.58Z" fill="#FF2000" stroke="#000" stroke-width="1.5" stroke-linejoin="round"/>
<path d="M1565.95 647.24L1555.12 645.81L1555.12 705.41L1565.95 706.84Z" fill="#FF2000" stroke="#000" stroke-width="1.5" stroke-linejoin="round"/>
<path d="M1555.12 645.81L1544.14 644.69L1544.14 704.29L1555.12 705.41Z" fill="#FF2000" stroke="#000" stroke-width="1.5" stroke-linejoin="round"/>
<path d="M1544.14 644.69L1532.19 643.83L1532.19 703.43L1544.14 704.29Z" fill="#CF0000" stroke="#000" stroke-width="1.5" stroke-linejoin="round"/>
<path d="M1532.19 643.83L1520.16 643.35L1520.16 702.95L1532.19 703.43Z" fill="#CF0000" stroke="#000" stroke-width="1.5" stroke-linejoin="round"/>
<path d="M1520.16 643.35L1508.09 643.23L1508.09 702.83L1520.16 702.95Z" fill="#CF0000" stroke="#000" stroke-width="1.5" stroke-linejoin="round"/>
<path d="M1508.09 643.23L1496.02 643.49L1496.02 703.09L1508.09 702.83Z" fill="#CF0000" stroke="#000" stroke-width="1.5" stroke-linejoin="round"/>
<path d="M1496.02 643.49L1484.02 644.11L1484.02 703.71L1496.02 703.09Z" fill="#CF0000" stroke="#000" stroke-width="1.5" stroke-linejoin="round"/>
<path d="M1484.02 644.11L1472.81 645.03L1472.81 704.63L1484.02 703.71Z" fill="#800000" stroke="#000" stroke-width="1.5" stroke-linejoin="round"/>
<path d="M1472.81 645.03L1461.73 646.28L1461.73 705.88L1472.81 704.63Z" fill="#800000" stroke="#000" stroke-width="1.5" stroke-linejoin="round"/>
<path d="M1461.73 646.28L1450.81 647.84L1450.81 707.44L1461.73 705.88Z" fill="#800000" stroke="#000" stroke-width="1.5" stroke-linejoin="round"/>
<path d="M1450.81 647.84L1440.09 649.72L1440.09 709.32L1450.81 707.44Z" fill="#800000" stroke="#000" stroke-width="1.5" stroke-linejoin="round"/>
<path d="M1440.09 649.72L1429.61 651.9L1429.61 711.5L1440.09 709.32Z" fill="#800000" stroke="#000" stroke-width="1.5" stroke-linejoin="round"/>
<path d="M1429.61 651.9L1419.39 654.38L1419.39 713.98L1429.61 711.5Z" fill="#800000" stroke="#000" stroke-width="1.5" stroke-linejoin="round"/>
<path d="M1419.39 654.38L1409.48 657.15L1409.48 716.75L1419.39 713.98Z" fill="#800000" stroke="#000" stroke-width="1.5" stroke-linejoin="round"/>
<path d="M1409.48 657.15L1399.9 660.21L1399.9 719.81L1409.48 716.75Z" fill="#800000" stroke="#000" stroke-width="1.5" stroke-linejoin="round"/>
<path d="M1399.9 660.21L1390.7 663.53L1390.7 723.13L1399.9 719.81Z" fill="#800000" stroke="#000" stroke-width="1.5" stroke-linejoin="round"/>
<path d="M1313.8 741.5L1314.05 746.47L1314.05 806.07L1313.8 801.1Z" fill="#00008F" stroke="#000" stroke-width="1.5" stroke-linejoin="round"/>
<path d="M1314.05 746.47L1315.05 752.57L1315.05 812.17L1314.05 806.07Z" fill="#0000DF" stroke="#000" stroke-width="1.5" stroke-linejoin="round"/>
<path d="M1315.05 752.57L1316.81 758.63L1316.81 818.23L1315.05 812.17Z" fill="#0000DF" stroke="#000" stroke-width="1.5" stroke-linejoin="round"/>
<path d="M1316.81 758.63L1319.32 764.62L1319.32 824.22L1316.81 818.23Z" fill="#0000DF" stroke="#000" stroke-width="1.5" stroke-linejoin="round"/>
<path d="M1319.32 764.62L1322.56 770.52L1322.56 830.12L1319.32 824.22Z" fill="#0000DF" stroke="#000" stroke-width="1.5" stroke-linejoin="round"/>
<path d="M1322.56 770.52L1326.54 776.31L1326.54 835.91L1322.56 830.12Z" fill="#0000DF" stroke="#000" stroke-width="1.5" stroke-linejoin="round"/>
<path d="M1326.54 776.31L1331.23 781.96L1331.23 841.56L1326.54 835.91Z" fill="#0000DF" stroke="#000" stroke-width="1.5" stroke-linejoin="round"/>
<path d="M1331.23 781.96L1336.62 787.46L1336.62 847.06L1331.23 841.56Z" fill="#0000DF" stroke="#000" stroke-width="1.5" stroke-linejoin="round"/>
<path d="M1336.62 787.46L1342.67 792.78L1342.67 852.38L1336.62 847.06Z" fill="#0000DF" stroke="#000" stroke-width="1.5" stroke-linejoin="round"/>
<path d="M1342.67 792.78L1349.38 797.89L1349.38 857.49L1342.67 852.38Z" fill="#0000DF" stroke="#000" stroke-width="1.5" stroke-linejoin="round"/>
<path d="M1349.38 797.89L1356.72 802.8L1356.72 862.4L1349.38 857.49Z" fill="#0000DF" stroke="#000" stroke-width="1.5" stroke-linejoin="round"/>
<path d="M1356.72 802.8L1364.64 807.46L1364.64 867.06L1356.72 862.4Z" fill="#0000DF" stroke="#000" stroke-width="1.5" stroke-linejoin="round"/>
<path d="M1364.64 807.46L1373.14 811.86L1373.14 871.46L1364.64 867.06Z" fill="#0000DF" stroke="#000" stroke-width="1.5" stroke-linejoin="round"/>
<path d="M1373.14 811.86L1382.16 816L1382.16 875.6L1373.14 871.46Z" fill="#0000DF" stroke="#000" stroke-width="1.5" stroke-linejoin="round"/>
<path d="M1382.16 816L1391.69 819.84L1391.69 879.44L1382.16 875.6Z" fill="#0000DF" stroke="#000" stroke-width="1.5" stroke-linejoin="round"/>
<path d="M1391.69 819.84L1401.67 823.38L1401.67 882.98L1391.69 879.44Z" fill="#0000DF" stroke="#000" stroke-width="1.5" stroke-linejoin="round"/>
<path d="M1401.67 823.38L1412.07 826.61L1412.07 886.21L1401.67 882.98Z" fill="#0000DF" stroke="#000" stroke-width="1.5" stroke-linejoin="round"/>
<path d="M1412.07 826.61L1419.9 828.75L1419.9 888.35L1412.07 886.21Z" fill="#0030FF" stroke="#000" stroke-width="1.5" stroke-linejoin="round"/>
<path d="M1419.9 828.75L1430.72 831.35L1430.72 890.95L1419.9 888.35Z" fill="#008FFF" stroke="#000" stroke-width="1.5" stroke-linejoin="round"/>
<path d="M1430.72 831.35L1441.84 833.61L1441.84 893.21L1430.72 890.95Z" fill="#008FFF" stroke="#000" stroke-width="1.5" stroke-linejoin="round"/>
<path d="M1441.84 833.61L1453.21 835.53L1453.21 895.13L1441.84 893.21Z" fill="#008FFF" stroke="#000" stroke-width="1.5" stroke-linejoin="round"/>
<path d="M1453.21 835.53L1464.8 837.1L1464.8 896.7L1453.21 895.13Z" fill="#008FFF" stroke="#000" stroke-width="1.5" stroke-linejoin="round"/>
<path d="M1464.8 837.1L1476.56 838.31L1476.56 897.91L1464.8 896.7Z" fill="#008FFF" stroke="#000" stroke-width="1.5" stroke-linejoin="round"/>
<path d="M1476.56 838.31L1488.44 839.16L1488.44 898.76L1476.56 897.91Z" fill="#008FFF" stroke="#000" stroke-width="1.5" stroke-linejoin="round"/>
<path d="M1488.44 839.16L1500.41 839.65L1500.41 899.25L1488.44 898.76Z" fill="#008FFF" stroke="#000" stroke-width="1.5" stroke-linejoin="round"/>
<path d="M1500.41 839.65L1512.41 839.77L1512.41 899.37L1500.41 899.25Z" fill="#008FFF" stroke="#000" stroke-width="1.5" stroke-linejoin="round"/>
<path d="M1512.41 839.77L1524.25 839.53L1524.25 899.13L1512.41 899.37Z" fill="#00DFFF" stroke="#000" stroke-width="1.5" stroke-linejoin="round"/>
<path d="M1524.25 839.53L1536.04 838.93L1536.04 898.53L1524.25 899.13Z" fill="#00DFFF" stroke="#000" stroke-width="1.5" stroke-linejoin="round"/>
<path d="M1536.04 838.93L1547.74 837.98L1547.74 897.58L1536.04 898.53Z" fill="#00DFFF" stroke="#000" stroke-width="1.5" stroke-linejoin="round"/>
<path d="M1547.74 837.98L1559.3 836.68L1559.3 896.28L1547.74 897.58Z" fill="#00DFFF" stroke="#000" stroke-width="1.5" stroke-linejoin="round"/>
<path d="M1559.3 836.68L1570.69 835.03L1570.69 894.63L1559.3 896.28Z" fill="#00DFFF" stroke="#000" stroke-width="1.5" stroke-linejoin="round"/>
<path d="M1570.69 835.03L1581.85 833.04L1581.85 892.64L1570.69 894.63Z" fill="#00DFFF" stroke="#000" stroke-width="1.5" stroke-linejoin="round"/>
<path d="M1581.85 833.04L1592.76 830.72L1592.76 890.32L1581.85 892.64Z" fill="#00DFFF" stroke="#000" stroke-width="1.5" stroke-linejoin="round"/>
<path d="M1592.76 830.72L1603.36 828.07L1603.36 887.67L1592.76 890.32Z" fill="#00DFFF" stroke="#000" stroke-width="1.5" stroke-linejoin="round"/>
<path d="M1603.36 828.07L1613.63 825.11L1613.63 884.71L1603.36 887.67Z" fill="#00DFFF" stroke="#000" stroke-width="1.5" stroke-linejoin="round"/>
<path d="M1613.63 825.11L1623.68 821.79L1623.68 881.39L1613.63 884.71Z" fill="#30FFCF" stroke="#000" stroke-width="1.5" stroke-linejoin="round"/>
<path d="M1623.68 821.79L1633.3 818.17L1633.3 877.77L1623.68 881.39Z" fill="#30FFCF" stroke="#000" stroke-width="1.5" stroke-linejoin="round"/>
<path d="M1633.3 818.17L1642.46 814.27L1642.46 873.87L1633.3 877.77Z" fill="#30FFCF" stroke="#000" stroke-width="1.5" stroke-linejoin="round"/>
<path d="M1642.46 814.27L1651.12 810.09L1651.12 869.69L1642.46 873.87Z" fill="#30FFCF" stroke="#000" stroke-width="1.5" stroke-linejoin="round"/>
<path d="M1651.12 810.09L1659.25 805.65L1659.25 865.25L1651.12 869.69Z" fill="#30FFCF" stroke="#000" stroke-width="1.5" stroke-linejoin="round"/>
<path d="M1659.25 805.65L1666.83 800.97L1666.83 860.57L1659.25 865.25Z" fill="#30FFCF" stroke="#000" stroke-width="1.5" stroke-linejoin="round"/>
<path d="M1666.83 800.97L1673.82 796.07L1673.82 855.67L1666.83 860.57Z" fill="#30FFCF" stroke="#000" stroke-width="1.5" stroke-linejoin="round"/>
<path d="M1673.82 796.07L1680.19 790.96L1680.19 850.56L1673.82 855.67Z" fill="#30FFCF" stroke="#000" stroke-width="1.5" stroke-linejoin="round"/>
<path d="M1680.19 790.96L1685.93 785.67L1685.93 845.27L1680.19 850.56Z" fill="#30FFCF" stroke="#000" stroke-width="1.5" stroke-linejoin="round"/>
<path d="M1685.93 785.67L1691.01 780.21L1691.01 839.81L1685.93 845.27Z" fill="#30FFCF" stroke="#000" stroke-width="1.5" stroke-linejoin="round"/>
<path d="M1691.01 780.21L1695.41 774.61L1695.41 834.21L1691.01 839.81Z" fill="#30FFCF" stroke="#000" stroke-width="1.5" stroke-linejoin="round"/>
<path d="M1695.41 774.61L1699.12 768.88L1699.12 828.48L1695.41 834.21Z" fill="#30FFCF" stroke="#000" stroke-width="1.5" stroke-linejoin="round"/>
<path d="M1699.12 768.88L1702.12 763.05L1702.12 822.65L1699.12 828.48Z" fill="#30FFCF" stroke="#000" stroke-width="1.5" stroke-linejoin="round"/>
<path d="M1702.12 763.05L1704.4 757.14L1704.4 816.74L1702.12 822.65Z" fill="#30FFCF" stroke="#000" stroke-width="1.5" stroke-linejoin="round"/>
<path d="M1704.4 757.14L1705.95 751.17L1705.95 810.77L1704.4 816.74Z" fill="#30FFCF" stroke="#000" stroke-width="1.5" stroke-linejoin="round"/>
<path d="M1705.95 751.17L1706.76 745.16L1706.76 804.76L1705.95 810.77Z" fill="#30FFCF" stroke="#000" stroke-width="1.5" stroke-linejoin="round"/>
<path d="M1706.76 745.16L1706.9 741.5L1706.9 801.1L1706.76 804.76Z" fill="#30FFCF" stroke="#000" stroke-width="1.5" stroke-linejoin="round"/>
<path d="M1510.35 741.5L1390.7 663.53L1381.5 667.29L1372.77 671.32L1364.54 675.6L1356.85 680.12L1349.72 684.87L1343.17 689.82L1337.23 694.97L1331.93 700.28L1327.27 705.74L1323.29 711.34L1319.99 717.04L1317.38 722.83L1315.48 728.69L1314.28 734.6L1313.81 740.54L1314.05 746.47Z" fill="#00008F" stroke="#000" stroke-width="1.5" stroke-linejoin="round"/>
<path d="M1510.35 741.5L1314.05 746.47L1315.05 752.57L1316.81 758.63L1319.32 764.62L1322.56 770.52L1326.54 776.31L1331.23 781.96L1336.62 787.46L1342.67 792.78L1349.38 797.89L1356.72 802.8L1364.64 807.46L1373.14 811.86L1382.16 816L1391.69 819.84L1401.67 823.38L1412.07 826.61Z" fill="#0000DF" stroke="#000" stroke-width="1.5" stroke-linejoin="round"/>
<path d="M1510.35 741.5L1412.07 826.61L1419.9 828.75Z" fill="#0030FF" stroke="#000" stroke-width="1.5" stroke-linejoin="round"/>
<path d="M1510.35 741.5L1419.9 828.75L1430.72 831.35L1441.84 833.61L1453.21 835.53L1464.8 837.1L1476.56 838.31L1488.44 839.16L1500.41 839.65L1512.41 839.77Z" fill="#008FFF" stroke="#000" stroke-width="1.5" stroke-linejoin="round"/>
<path d="M1510.35 741.5L1512.41 839.77L1524.25 839.53L1536.04 838.93L1547.74 837.98L1559.3 836.68L1570.69 835.03L1581.85 833.04L1592.76 830.72L1603.36 828.07L1613.63 825.11Z" fill="#00DFFF" stroke="#000" stroke-width="1.5" stroke-linejoin="round"/>
<path d="M1510.35 741.5L1613.63 825.11L1623.68 821.79L1633.3 818.17L1642.46 814.27L1651.12 810.09L1659.25 805.65L1666.83 800.97L1673.82 796.07L1680.19 790.96L1685.93 785.67L1691.01 780.21L1695.41 774.61L1699.12 768.88L1702.12 763.05L1704.4 757.14L1705.95 751.17L1706.76 745.16L1706.84 739.14L1706.19 733.13L1704.79 727.15L1702.67 721.22L1699.83 715.37L1696.27 709.62L1692.02 703.99L1687.09 698.5L1681.49 693.17L1675.25 688.02L1668.39 683.07L1660.94 678.34L1652.92 673.85Z" fill="#30FFCF" stroke="#000" stroke-width="1.5" stroke-linejoin="round"/>
<path d="M1510.35 741.5L1652.92 673.85L1648.11 671.41L1643.14 669.04Z" fill="#8FFF70" stroke="#000" stroke-width="1.5" stroke-linejoin="round"/>
<path d="M1510.35 741.5L1643.14 669.04L1637.74 666.66Z" fill="#DFFF20" stroke="#000" stroke-width="1.5" stroke-linejoin="round"/>
<path d="M1510.35 741.5L1637.74 666.66L1631.22 664.01L1624.49 661.49Z" fill="#FFCF00" stroke="#000" stroke-width="1.5" stroke-linejoin="round"/>
<path d="M1510.35 741.5L1624.49 661.49L1615.96 658.62L1607.14 655.97Z" fill="#FF7000" stroke="#000" stroke-width="1.5" stroke-linejoin="round"/>
<path d="M1510.35 741.5L1607.14 655.97L1597.23 653.35L1587.04 651.02L1576.61 648.98L1565.95 647.24L1555.12 645.81L1544.14 644.69Z" fill="#FF2000" stroke="#000" stroke-width="1.5" stroke-linejoin="round"/>
<path d="M1510.35 741.5L1544.14 644.69L1532.19 643.83L1520.16 643.35L1508.09 643.23L1496.02 643.49L1484.02 644.11Z" fill="#CF0000" stroke="#000" stroke-width="1.5" stroke-linejoin="round"/>
<path d="M1510.35 741.5L1484.02 644.11L1472.81 645.03L1461.73 646.28L1450.81 647.84L1440.09 649.72L1429.61 651.9L1419.39 654.38L1409.48 657.15L1399.9 660.21L1390.7 663.53Z" fill="#800000" stroke="#000" stroke-width="1.5" stroke-linejoin="round"/>
<g transform="translate(342.49,609.6) scale(1.1084,1)"><text x="0" y="0" font-size="21.5" font-weight="bold">Pie Chart with percentage</text></g>
<g transform="translate(1372.19,565.1) scale(1.1065,1)"><text x="0" y="0" font-size="21.5" class="t">Pie Chart with percentage</text></g>
<g transform="translate(332.28,648.3) scale(1.0250,1)"><text x="0" y="0" font-size="17.6" class="t"><tspan font-family="'Liberation Serif', 'DejaVu Serif', serif" font-size="18.5">ρ</tspan><tspan font-size="14.5" dy="8.6">v1</tspan><tspan dy="-8.6">(8%)</tspan></text></g>
<g transform="translate(451.98,638.7) scale(1.0169,1)"><text x="0" y="0" font-size="17.6" class="t"><tspan font-family="'Liberation Serif', 'DejaVu Serif', serif" font-size="18.5">ζ</tspan><tspan font-size="14.5" dy="8.6">a1</tspan><tspan dy="-8.6">(5%)</tspan></text></g>
<g transform="translate(602.48,641.9) scale(1.0167,1)"><text x="0" y="0" font-size="17.6" class="t"><tspan font-family="'Liberation Serif', 'DejaVu Serif', serif" font-size="18.5">ξ</tspan><tspan font-size="14.5" dy="8.6">a1</tspan><tspan dy="-8.6">(2%)</tspan></text></g>
<g transform="translate(711.88,661.8) scale(1.0250,1)"><text x="0" y="0" font-size="17.6" class="t"><tspan font-family="'Liberation Serif', 'DejaVu Serif', serif" font-size="18.5">θ</tspan><tspan font-size="14.5" dy="8.6">i1</tspan><tspan dy="-8.6">( 1%)</tspan></text></g>
<g transform="translate(525.88,677) scale(1.0150,1)"><text x="0" y="0" font-size="17.6" class="t"><tspan font-family="'Liberation Serif', 'DejaVu Serif', serif" font-size="18.5">θ</tspan><tspan font-size="14.5" dy="8.6">a1</tspan><tspan dy="-8.6">(5%)</tspan></text></g>
<g transform="translate(632.3,679.3) scale(1.0263,1)"><text x="0" y="0" font-size="17.6" class="t"><tspan font-family="'Liberation Serif', 'DejaVu Serif', serif" font-size="18.5">η</tspan><tspan font-size="14.5" dy="8.6">i1</tspan><tspan dy="-8.6">(1%)</tspan></text></g>
<g transform="translate(735.97,703.7) scale(1.0259,1)"><text x="0" y="0" font-size="17.6" class="t"><tspan font-family="'Liberation Serif', 'DejaVu Serif', serif" font-size="18.5">ζ</tspan><tspan font-size="14.5" dy="8.6">i1</tspan><tspan dy="-8.6">(1%)</tspan></text></g>
<g transform="translate(248.89,726.5) scale(1.0113,1)"><text x="0" y="0" font-size="17.6" class="t"><tspan font-family="'Liberation Serif', 'DejaVu Serif', serif" font-size="18.5">β</tspan><tspan font-size="14.5" dy="8.6">h1</tspan><tspan dy="-8.6">(15%)</tspan></text></g>
<g transform="translate(675.6,787.1) scale(0.9952,1)"><text x="0" y="0" font-size="17.6" class="t"><tspan font-family="'Liberation Serif', 'DejaVu Serif', serif" font-size="18.5">ϕ</tspan><tspan font-size="14.5" dy="8.6">1</tspan><tspan dy="-8.6">(28%)</tspan></text></g>
<g transform="translate(263.99,884) scale(1.0113,1)"><text x="0" y="0" font-size="17.6" class="t"><tspan font-family="'Liberation Serif', 'DejaVu Serif', serif" font-size="18.5">β</tspan><tspan font-size="14.5" dy="8.6">h1</tspan><tspan dy="-8.6">(16%)</tspan></text></g>
<g transform="translate(354.27,921.6) scale(1.0297,1)"><text x="0" y="0" font-size="17.6" class="t"><tspan font-family="'Liberation Serif', 'DejaVu Serif', serif" font-size="18.5">ξ</tspan><tspan font-size="14.5" dy="8.6">e1</tspan><tspan dy="-8.6">( 1%)</tspan></text></g>
<g transform="translate(526.2,935.7) scale(1.0187,1)"><text x="0" y="0" font-size="17.6" class="t"><tspan font-family="'Liberation Serif', 'DejaVu Serif', serif" font-size="18.5">ψ</tspan><tspan>(9%)</tspan></text></g>
<g transform="translate(407.79,962.2) scale(1.0079,1)"><text x="0" y="0" font-size="17.6" class="t"><tspan font-family="'Liberation Serif', 'DejaVu Serif', serif" font-size="18.5">ω</tspan><tspan font-size="14.5" dy="8.6">v1</tspan><tspan dy="-8.6">(8%)</tspan></text></g>
<g transform="translate(1384.08,631.2) scale(1.0183,1)"><text x="0" y="0" font-size="17.6" class="t"><tspan font-family="'Liberation Serif', 'DejaVu Serif', serif" font-size="18.5">ρ</tspan><tspan font-size="14.5" dy="8.6">v2</tspan><tspan dy="-8.6">(8%)</tspan></text></g>
<g transform="translate(1469.58,598.9) scale(1.0237,1)"><text x="0" y="0" font-size="17.6" class="t"><tspan font-family="'Liberation Serif', 'DejaVu Serif', serif" font-size="18.5">ζ</tspan><tspan font-size="14.5" dy="8.6">a2</tspan><tspan dy="-8.6">(5%)</tspan></text></g>
<g transform="translate(1553.68,590.3) scale(1.0167,1)"><text x="0" y="0" font-size="17.6" class="t"><tspan font-family="'Liberation Serif', 'DejaVu Serif', serif" font-size="18.5">θ</tspan><tspan font-size="14.5" dy="8.6">a2</tspan><tspan dy="-8.6">(5%)</tspan></text></g>
<g transform="translate(1612.49,618.8) scale(1.0067,1)"><text x="0" y="0" font-size="17.6" class="t"><tspan font-family="'Liberation Serif', 'DejaVu Serif', serif" font-size="18.5">ξ</tspan><tspan font-size="14.5" dy="8.6">a2</tspan><tspan dy="-8.6">(2%)</tspan></text></g>
<g transform="translate(1699.9,603.9) scale(1.0193,1)"><text x="0" y="0" font-size="17.6" class="t"><tspan font-family="'Liberation Serif', 'DejaVu Serif', serif" font-size="18.5">η</tspan><tspan font-size="14.5" dy="8.6">i2</tspan><tspan dy="-8.6">(1%)</tspan></text></g>
<g transform="translate(1670.07,638.3) scale(1.0250,1)"><text x="0" y="0" font-size="17.6" class="t"><tspan font-family="'Liberation Serif', 'DejaVu Serif', serif" font-size="18.5">θ</tspan><tspan font-size="14.5" dy="8.6">i2</tspan><tspan dy="-8.6">( 1%)</tspan></text></g>
<g transform="translate(1738.97,649) scale(1.0333,1)"><text x="0" y="0" font-size="17.6" class="t"><tspan font-family="'Liberation Serif', 'DejaVu Serif', serif" font-size="18.5">ζ</tspan><tspan font-size="14.5" dy="8.6">i2</tspan><tspan dy="-8.6">(1%)</tspan></text></g>
<g transform="translate(1248.19,693.5) scale(1.0070,1)"><text x="0" y="0" font-size="17.6" class="t"><tspan font-family="'Liberation Serif', 'DejaVu Serif', serif" font-size="18.5">β</tspan><tspan font-size="14.5" dy="8.6">h2</tspan><tspan dy="-8.6">(15%)</tspan></text></g>
<g transform="translate(1721.09,760.8) scale(1.0095,1)"><text x="0" y="0" font-size="17.6" class="t"><tspan font-family="'Liberation Serif', 'DejaVu Serif', serif" font-size="18.5">ϕ</tspan><tspan font-size="14.5" dy="8.6">2</tspan><tspan dy="-8.6">(28%)</tspan></text></g>
<g transform="translate(1264.59,868.2) scale(1.0085,1)"><text x="0" y="0" font-size="17.6" class="t"><tspan font-family="'Liberation Serif', 'DejaVu Serif', serif" font-size="18.5">β</tspan><tspan font-size="14.5" dy="8.6">h2</tspan><tspan dy="-8.6">(16%)</tspan></text></g>
<g transform="translate(1364.37,910.3) scale(1.0328,1)"><text x="0" y="0" font-size="17.6" class="t"><tspan font-family="'Liberation Serif', 'DejaVu Serif', serif" font-size="18.5">ξ</tspan><tspan font-size="14.5" dy="8.6">e2</tspan><tspan dy="-8.6">( 1%)</tspan></text></g>
<g transform="translate(1555.3,925.2) scale(1.0104,1)"><text x="0" y="0" font-size="17.6" class="t"><tspan font-family="'Liberation Serif', 'DejaVu Serif', serif" font-size="18.5">ψ</tspan><tspan>(9%)</tspan></text></g>
<g transform="translate(1420.2,924) scale(0.9984,1)"><text x="0" y="0" font-size="17.6" class="t"><tspan font-family="'Liberation Serif', 'DejaVu Serif', serif" font-size="18.5">ω</tspan><tspan font-size="14.5" dy="8.6">v2</tspan><tspan dy="-8.6">(8%)</tspan></text></g>
<g transform="translate(-1.6,486) scale(1.1000,1)"><text x="0" y="0" font-size="32.6" font-family="'Liberation Serif', 'Times New Roman', serif">(a)</text></g>
<g transform="translate(49.99,486) scale(1.1051,1)"><text x="0" y="0" font-size="32.6" font-family="'Liberation Serif', 'Times New Roman', serif">Sensitivity</text></g>
<g transform="translate(216.7,486) scale(1.1511,1)"><text x="0" y="0" font-size="32.6" font-family="'Liberation Serif', 'Times New Roman', serif">test</text></g>
<g transform="translate(280.87,486) scale(1.1277,1)"><text x="0" y="0" font-size="32.6" font-family="'Liberation Serif', 'Times New Roman', serif">results</text></g>
<g transform="translate(388.2,486) scale(0.9973,1)"><text x="0" y="0" font-size="32.6" font-family="'Liberation Serif', 'Times New Roman', serif">for</text></g>
<g transform="translate(439.04,486) scale(1.0645,1)"><text x="0" y="0" font-size="32.6" font-family="'Liberation Serif', 'Times New Roman', serif">significance</text></g>
<g transform="translate(615.77,486) scale(1.0346,1)"><text x="0" y="0" font-size="32.6" font-family="'Liberation Serif', 'Times New Roman', serif">of</text></g>
<g transform="translate(655.4,486) scale(1.1317,1)"><text x="0" y="0" font-size="32.6" font-family="'Liberation Serif', 'Times New Roman', serif">parameters</text></g>
<g transform="translate(828.52,486) scale(1.0833,1)"><text x="0" y="0" font-size="32.6" font-family="'Liberation Serif', 'Times New Roman', serif">in</text></g>
<g transform="translate(869.1,486) scale(1.3368,1)"><text x="0" y="0" font-size="32.6" font-family="'Liberation Serif', 'Times New Roman', serif" font-style="italic">R</text></g>
<g transform="translate(893.04,491.2) scale(1.2550,1)"><text x="0" y="0" font-size="22.82" font-family="'Liberation Serif', 'Times New Roman', serif">01</text></g>
<g transform="translate(1025.11,486) scale(1.0944,1)"><text x="0" y="0" font-size="32.6" font-family="'Liberation Serif', 'Times New Roman', serif">(b)</text></g>
<g transform="translate(1078.58,486) scale(1.1080,1)"><text x="0" y="0" font-size="32.6" font-family="'Liberation Serif', 'Times New Roman', serif">Sensitivity</text></g>
<g transform="translate(1245.8,486) scale(1.1489,1)"><text x="0" y="0" font-size="32.6" font-family="'Liberation Serif', 'Times New Roman', serif">test</text></g>
<g transform="translate(1309.67,486) scale(1.1313,1)"><text x="0" y="0" font-size="32.6" font-family="'Liberation Serif', 'Times New Roman', serif">results</text></g>
<g transform="translate(1416.79,486) scale(1.0135,1)"><text x="0" y="0" font-size="32.6" font-family="'Liberation Serif', 'Times New Roman', serif">for</text></g>
<g transform="translate(1467.34,486) scale(1.0632,1)"><text x="0" y="0" font-size="32.6" font-family="'Liberation Serif', 'Times New Roman', serif">significance</text></g>
<g transform="translate(1644.68,486) scale(1.0231,1)"><text x="0" y="0" font-size="32.6" font-family="'Liberation Serif', 'Times New Roman', serif">of</text></g>
<g transform="translate(1684.5,486) scale(1.1331,1)"><text x="0" y="0" font-size="32.6" font-family="'Liberation Serif', 'Times New Roman', serif">parameters</text></g>
<g transform="translate(1856.6,486) scale(1.1042,1)"><text x="0" y="0" font-size="32.6" font-family="'Liberation Serif', 'Times New Roman', serif">in</text></g>
<g transform="translate(1898.2,486) scale(1.3368,1)"><text x="0" y="0" font-size="32.6" font-family="'Liberation Serif', 'Times New Roman', serif" font-style="italic">R</text></g>
<g transform="translate(1922.2,491.2) scale(1.1952,1)"><text x="0" y="0" font-size="22.82" font-family="'Liberation Serif', 'Times New Roman', serif">02</text></g>
<g transform="translate(89.26,1062.2) scale(1.0412,1)"><text x="0" y="0" font-size="32.6" font-family="'Liberation Serif', 'Times New Roman', serif">(c)</text></g>
<g transform="translate(139.88,1062.2) scale(1.1247,1)"><text x="0" y="0" font-size="32.6" font-family="'Liberation Serif', 'Times New Roman', serif">Impact</text></g>
<g transform="translate(254.05,1062.2) scale(1.0500,1)"><text x="0" y="0" font-size="32.6" font-family="'Liberation Serif', 'Times New Roman', serif">of</text></g>
<g transform="translate(294,1062.2) scale(1.1254,1)"><text x="0" y="0" font-size="32.6" font-family="'Liberation Serif', 'Times New Roman', serif">parameters</text></g>
<g transform="translate(466.22,1062.2) scale(1.0806,1)"><text x="0" y="0" font-size="32.6" font-family="'Liberation Serif', 'Times New Roman', serif">on</text></g>
<g transform="translate(580.8,1062.2) scale(1.1307,1)"><text x="0" y="0" font-size="32.6" font-family="'Liberation Serif', 'Times New Roman', serif">through</text></g>
<g transform="translate(706.75,1062.2) scale(1.1500,1)"><text x="0" y="0" font-size="32.6" font-family="'Liberation Serif', 'Times New Roman', serif">Pie</text></g>
<g transform="translate(764.97,1062.2) scale(1.1328,1)"><text x="0" y="0" font-size="32.6" font-family="'Liberation Serif', 'Times New Roman', serif">chart</text></g>
<g transform="translate(514.3,1062.2) scale(1.3211,1)"><text x="0" y="0" font-size="32.6" font-family="'Liberation Serif', 'Times New Roman', serif" font-style="italic">R</text></g>
<g transform="translate(537.94,1067.4) scale(1.2600,1)"><text x="0" y="0" font-size="22.82" font-family="'Liberation Serif', 'Times New Roman', serif">01</text></g>
<g transform="translate(1109.22,1062.2) scale(1.0750,1)"><text x="0" y="0" font-size="32.6" font-family="'Liberation Serif', 'Times New Roman', serif">(d)</text></g>
<g transform="translate(1163.38,1062.2) scale(1.1247,1)"><text x="0" y="0" font-size="32.6" font-family="'Liberation Serif', 'Times New Roman', serif">Impact</text></g>
<g transform="translate(1277.55,1062.2) scale(1.0500,1)"><text x="0" y="0" font-size="32.6" font-family="'Liberation Serif', 'Times New Roman', serif">of</text></g>
<g transform="translate(1317.5,1062.2) scale(1.1254,1)"><text x="0" y="0" font-size="32.6" font-family="'Liberation Serif', 'Times New Roman', serif">parameters</text></g>
<g transform="translate(1489.72,1062.2) scale(1.0806,1)"><text x="0" y="0" font-size="32.6" font-family="'Liberation Serif', 'Times New Roman', serif">on</text></g>
<g transform="translate(1604.3,1062.2) scale(1.1307,1)"><text x="0" y="0" font-size="32.6" font-family="'Liberation Serif', 'Times New Roman', serif">through</text></g>
<g transform="translate(1730.25,1062.2) scale(1.1500,1)"><text x="0" y="0" font-size="32.6" font-family="'Liberation Serif', 'Times New Roman', serif">Pie</text></g>
<g transform="translate(1788.47,1062.2) scale(1.1328,1)"><text x="0" y="0" font-size="32.6" font-family="'Liberation Serif', 'Times New Roman', serif">chart</text></g>
<g transform="translate(1539,1062.2) scale(1.3211,1)"><text x="0" y="0" font-size="32.6" font-family="'Liberation Serif', 'Times New Roman', serif" font-style="italic">R</text></g>
<g transform="translate(1562.7,1067.4) scale(1.2000,1)"><text x="0" y="0" font-size="22.82" font-family="'Liberation Serif', 'Times New Roman', serif">02</text></g>
<g transform="translate(61.1,52.54)"><text x="0" y="0" font-size="20.5" class="t">0.6</text></g>
<g transform="translate(61.1,102.44)"><text x="0" y="0" font-size="20.5" class="t">0.4</text></g>
<g transform="translate(62.1,152.34)"><text x="0" y="0" font-size="20.5" class="t">0.2</text></g>
<g transform="translate(78.1,202.24)"><text x="0" y="0" font-size="20.5" class="t">0</text></g>
<g transform="translate(50.1,252.14)"><text x="0" y="0" font-size="20.5" class="t">−0.2</text></g>
<g transform="translate(49.1,302.04)"><text x="0" y="0" font-size="20.5" class="t">−0.4</text></g>
<g transform="translate(49.1,351.94)"><text x="0" y="0" font-size="20.5" class="t">−0.6</text></g>
<g transform="translate(49.1,401.84)"><text x="0" y="0" font-size="20.5" class="t">−0.8</text></g>
<g transform="translate(1083.2,56.3)"><text x="0" y="0" font-size="24.3" class="t">0.6</text></g>
<g transform="translate(1083.2,105.83)"><text x="0" y="0" font-size="24.3" class="t">0.4</text></g>
<g transform="translate(1083.2,155.36)"><text x="0" y="0" font-size="24.3" class="t">0.2</text></g>
<g transform="translate(1103.2,204.89)"><text x="0" y="0" font-size="24.3" class="t">0</text></g>
<g transform="translate(1069.2,254.41)"><text x="0" y="0" font-size="24.3" class="t">−0.2</text></g>
<g transform="translate(1069.2,303.94)"><text x="0" y="0" font-size="24.3" class="t">−0.4</text></g>
<g transform="translate(1069.2,353.47)"><text x="0" y="0" font-size="24.3" class="t">−0.6</text></g>
<g transform="translate(1069.2,403)"><text x="0" y="0" font-size="24.3" class="t">−0.8</text></g>
<g transform="translate(40.86,293.56) rotate(-90) scale(1.0572,1.12)"><text x="0" y="0" font-size="22.4" font-weight="bold">PRCC values</text></g>
<g transform="translate(1060.66,295.06) rotate(-90) scale(1.0580,1.12)"><text x="0" y="0" font-size="22.4" font-weight="bold">PRCC values</text></g>
<g transform="translate(152.7,433.8)"><text x="0" y="0" font-size="19.5" font-weight="bold">h1</text></g>
<g transform="translate(206.4,434.8)"><text x="0" y="0" font-size="19.5" font-weight="bold">v1</text></g>
<g transform="translate(264,434)"><text x="0" y="0" font-size="19.5" font-weight="bold">e1</text></g>
<g transform="translate(325.5,434)"><text x="0" y="0" font-size="19.5" font-weight="bold">v1</text></g>
<g transform="translate(436.4,436.2)"><text x="0" y="0" font-size="19.5" font-weight="bold">1</text></g>
<g transform="translate(488.4,436.8)"><text x="0" y="0" font-size="19.5" font-weight="bold">i1</text></g>
<g transform="translate(543.9,433.6)"><text x="0" y="0" font-size="19.5" font-weight="bold">i1</text></g>
<g transform="translate(606.9,435)"><text x="0" y="0" font-size="19.5" font-weight="bold">i1</text></g>
<g transform="translate(658.9,434.7)"><text x="0" y="0" font-size="19.5" font-weight="bold">a1</text></g>
<g transform="translate(712.5,434.5)"><text x="0" y="0" font-size="19.5" font-weight="bold">a1</text></g>
<g transform="translate(769.1,434.5)"><text x="0" y="0" font-size="19.5" font-weight="bold">a1</text></g>
<g transform="translate(825.4,435)"><text x="0" y="0" font-size="19.5" font-weight="bold">v1</text></g>
<g transform="translate(1180,434.5)"><text x="0" y="0" font-size="19.5" font-weight="bold">h2</text></g>
<g transform="translate(1237.2,436.2)"><text x="0" y="0" font-size="19.5" font-weight="bold">v2</text></g>
<g transform="translate(1290.9,436.2)"><text x="0" y="0" font-size="19.5" font-weight="bold">e2</text></g>
<g transform="translate(1349.3,437.3)"><text x="0" y="0" font-size="19.5" font-weight="bold">v2</text></g>
<g transform="translate(1464.8,437.7)"><text x="0" y="0" font-size="19.5" font-weight="bold">2</text></g>
<g transform="translate(1519.8,437.7)"><text x="0" y="0" font-size="19.5" font-weight="bold">i2</text></g>
<g transform="translate(1573.4,437)"><text x="0" y="0" font-size="19.5" font-weight="bold">i2</text></g>
<g transform="translate(1636.1,437)"><text x="0" y="0" font-size="19.5" font-weight="bold">i2</text></g>
<g transform="translate(1688.9,437.7)"><text x="0" y="0" font-size="19.5" font-weight="bold">a2</text></g>
<g transform="translate(1744.9,437.9)"><text x="0" y="0" font-size="19.5" font-weight="bold">a2</text></g>
<g transform="translate(1798,438.6)"><text x="0" y="0" font-size="19.5" font-weight="bold">a2</text></g>
<g transform="translate(1854,435.7)"><text x="0" y="0" font-size="19.5" font-weight="bold">v2</text></g>
</svg></body></html>
